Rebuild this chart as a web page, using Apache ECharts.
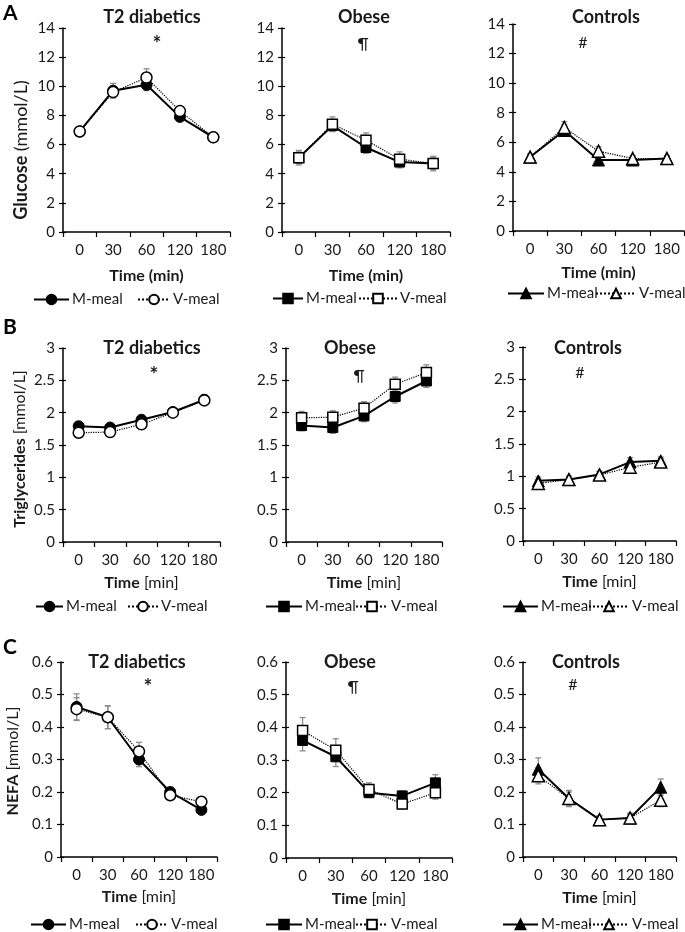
<!DOCTYPE html>
<html><head><meta charset="utf-8">
<script src="https://cdn.jsdelivr.net/npm/echarts@6/dist/echarts.min.js"></script>
<style>html,body{margin:0;padding:0;background:#fff}#c{width:685px;height:932px}</style>
</head><body><div id="c"></div>
<script>
// ---------- DATA ----------
const timeLabels = ['0', '30', '60', '120', '180'];
const groups = ['T2 diabetics', 'Obese', 'Controls'];
const groupMarks = ['*', '¶', '#'];
const meals = ['M-meal', 'V-meal'];

// A: Glucose (mmol/L)
const gluT2_M = [6.9, 9.7, 10.1, 7.9, 6.5];
const gluT2_V = [6.9, 9.6, 10.6, 8.3, 6.5];
const gluT2_Merr = [0.2, 0.5, 0.4, 0.25, 0.2];
const gluT2_Verr = [0.2, 0.4, 0.6, 0.25, 0.2];
const gluOb_M = [5.1, 7.3, 5.8, 4.8, 4.7];
const gluOb_V = [5.1, 7.4, 6.3, 5.0, 4.7];
const gluOb_Merr = [0.4, 0.4, 0.4, 0.4, 0.4];
const gluOb_Verr = [0.5, 0.5, 0.5, 0.5, 0.5];
const gluCo_M = [5.0, 6.8, 4.8, 4.8, 4.9];
const gluCo_V = [5.0, 7.0, 5.4, 4.9, 4.9];
const gluCo_Merr = [0.2, 0.4, 0.2, 0.2, 0.2];
const gluCo_Verr = [0.2, 0.4, 0.3, 0.2, 0.2];

// B: Triglycerides (mmol/L)
const tgT2_M = [1.79, 1.77, 1.89, 2.01, 2.20];
const tgT2_V = [1.69, 1.70, 1.82, 2.00, 2.19];
const tgT2_Merr = [0.06, 0.06, 0.07, 0.07, 0.08];
const tgT2_Verr = [0.06, 0.06, 0.07, 0.07, 0.08];
const tgOb_M = [1.80, 1.77, 1.95, 2.25, 2.49];
const tgOb_V = [1.92, 1.93, 2.07, 2.44, 2.62];
const tgOb_Merr = [0.08, 0.09, 0.09, 0.1, 0.1];
const tgOb_Verr = [0.1, 0.1, 0.1, 0.11, 0.12];
const tgCo_M = [0.93, 0.95, 1.03, 1.22, 1.24];
const tgCo_V = [0.89, 0.95, 1.02, 1.14, 1.22];
const tgCo_Merr = [0.06, 0.05, 0.05, 0.07, 0.06];
const tgCo_Verr = [0.06, 0.05, 0.05, 0.07, 0.06];

// C: NEFA (mmol/L)
const nefaT2_M = [0.462, 0.43, 0.30, 0.20, 0.145];
const nefaT2_V = [0.455, 0.43, 0.325, 0.19, 0.17];
const nefaT2_Merr = [0.04, 0.035, 0.022, 0.01, 0.008];
const nefaT2_Verr = [0.035, 0.035, 0.028, 0.01, 0.01];
const nefaOb_M = [0.36, 0.31, 0.20, 0.19, 0.23];
const nefaOb_V = [0.39, 0.33, 0.21, 0.165, 0.20];
const nefaOb_Merr = [0.032, 0.03, 0.015, 0.015, 0.025];
const nefaOb_Verr = [0.04, 0.035, 0.02, 0.015, 0.02];
const nefaCo_M = [0.27, 0.18, 0.115, 0.12, 0.215];
const nefaCo_V = [0.25, 0.18, 0.115, 0.12, 0.175];
const nefaCo_Merr = [0.035, 0.025, 0.012, 0.015, 0.025];
const nefaCo_Verr = [0.025, 0.02, 0.012, 0.012, 0.02];

// ---------- LAYOUT ----------
const FONT = 'Lato';
const rows = [
  { letter: 'A', letterY: 13, ymax: 14, yint: 2,
    yBold: 'Glucose', yRest: ' (mmol/L)', yNameSize: 18, yNamePos: [21, 150], xName: '{b|Time (min)}',
    data: [[gluT2_M, gluT2_V, gluT2_Merr, gluT2_Verr], [gluOb_M, gluOb_V, gluOb_Merr, gluOb_Verr], [gluCo_M, gluCo_V, gluCo_Merr, gluCo_Verr]],
    grids: [[63, 28, 167, 204], [282, 28, 168, 204], [513, 24, 171, 207]],
    titles: [[152, 17], [364, 17], [606, 17]], marks: [[157, 44], [363, 44], [583, 43]],
    xNameGap: [36, 36, 34], legY: [298, 297, 292],
    legX: [[33, 35, 137, 32], [272, 30, 358, 38], [507, 36, 595, 40]] },
  { letter: 'B', letterY: 327, ymax: 3, yint: 0.5,
    yBold: 'Triglycerides', yRest: ' [mmol/L]', yNameSize: 16, yNamePos: [20, 449], xName: '{b|Time} [min]',
    data: [[tgT2_M, tgT2_V, tgT2_Merr, tgT2_Verr], [tgOb_M, tgOb_V, tgOb_Merr, tgOb_Verr], [tgCo_M, tgCo_V, tgCo_Merr, tgCo_Verr]],
    grids: [[63, 348, 157, 194], [286, 348, 156, 194], [523, 347, 153, 194]],
    titles: [[152, 348], [350, 348], [588, 348]], marks: [[154, 375], [359, 376], [580, 373]],
    xNameGap: [33, 33, 33], legY: [605, 605, 605],
    legX: [[35, 27, 127, 30], [265, 36, 355, 32], [502, 35, 588, 40]] },
  { letter: 'C', letterY: 647, ymax: 0.6, yint: 0.1,
    yBold: 'NEFA', yRest: ' [mmol/L]', yNameSize: 16, yNamePos: [13, 761], xName: '{b|Time} [min]',
    data: [[nefaT2_M, nefaT2_V, nefaT2_Merr, nefaT2_Verr], [nefaOb_M, nefaOb_V, nefaOb_Merr, nefaOb_Verr], [nefaCo_M, nefaCo_V, nefaCo_Merr, nefaCo_Verr]],
    grids: [[61, 662, 156, 195], [286, 662, 166, 196], [523, 662, 153, 195]],
    titles: [[137, 662], [350, 662], [586, 662]], marks: [[148, 687], [353, 687], [573, 685]],
    xNameGap: [32, 33, 33], legY: [923, 923, 923],
    legX: [[30, 35, 135, 32], [265, 36, 355, 32], [502, 35, 588, 40]] }
];
const symbols = ['circle', 'rect', 'triangle'];
const symSizes = [11, 10, 12];
const TXT = '#1a1a1a';

const option = { animation: false, grid: [], xAxis: [], yAxis: [], series: [], legend: [], graphic: [] };

rows.forEach((row, r) => {
  option.graphic.push({ type: 'text', x: 3, y: row.letterY, style: { text: row.letter, font: 'bold 21px ' + FONT, fill: '#000', verticalAlign: 'middle' } });
  option.graphic.push({ type: 'text', x: row.yNamePos[0], y: row.yNamePos[1], rotation: Math.PI / 2,
    style: { text: '{b|' + row.yBold + '}{n|' + row.yRest + '}', align: 'center', verticalAlign: 'middle',
      rich: { b: { font: 'bold ' + row.yNameSize + 'px ' + FONT, fill: TXT }, n: { font: row.yNameSize + 'px ' + FONT, fill: TXT } } } });
  for (let c = 0; c < 3; c++) {
    const gi = option.grid.length;
    const [l, t, w, h] = row.grids[c];
    option.grid.push({ left: l, top: t, width: w, height: h, containLabel: false });
    option.xAxis.push({
      type: 'category', gridIndex: gi, data: timeLabels, boundaryGap: true,
      axisLine: { lineStyle: { color: '#000', width: 1.5 } },
      axisTick: { show: true, length: 5, lineStyle: { color: '#000', width: 1.2 } },
      axisLabel: { color: TXT, fontFamily: FONT, fontSize: 15, margin: 11, interval: 0, hideOverlap: false },
      name: row.xName, nameLocation: 'middle', nameGap: row.xNameGap[c],
      nameTextStyle: { color: TXT, fontFamily: FONT, fontSize: 16, rich: { b: { fontWeight: 'bold', fontFamily: FONT, fontSize: 16, color: TXT } } }
    });
    option.yAxis.push({
      type: 'value', gridIndex: gi, min: 0, max: row.ymax, interval: row.yint,
      axisLine: { show: true, lineStyle: { color: '#000', width: 1.5 } },
      axisTick: { show: true, length: 4, lineStyle: { color: '#000', width: 1.2 } },
      splitLine: { show: false },
      axisLabel: { color: TXT, fontFamily: FONT, fontSize: 15, margin: 8 }
    });
    const yInside = option.yAxis.length;
    option.yAxis.push({
      type: 'value', gridIndex: gi, min: 0, max: row.ymax, interval: row.yint, position: 'left',
      axisLine: { show: false }, axisLabel: { show: false }, splitLine: { show: false },
      axisTick: { show: true, inside: true, length: 3, lineStyle: { color: '#000', width: 1.2 } }
    });
    const yi = yInside - 1;
    const [mVals, vVals, mErr, vErr] = row.data[c];
    const idx = r * 3 + c;
    [[mVals, mErr], [vVals, vErr]].forEach(([vals, errs]) => {
      option.series.push({
        type: 'custom', xAxisIndex: gi, yAxisIndex: yi, z: 1, silent: true,
        data: vals.map((v, i) => [i, v - errs[i], v + errs[i]]),
        encode: { x: 0, y: [1, 2] },
        renderItem: (params, api) => {
          const x = api.value(0);
          const p1 = api.coord([x, api.value(2)]);
          const p2 = api.coord([x, api.value(1)]);
          const st = { stroke: '#8c8c8c', lineWidth: 1.3 };
          const cw = 3;
          return { type: 'group', children: [
            { type: 'line', shape: { x1: p1[0], y1: p1[1], x2: p2[0], y2: p2[1] }, style: st },
            { type: 'line', shape: { x1: p1[0] - cw, y1: p1[1], x2: p1[0] + cw, y2: p1[1] }, style: st },
            { type: 'line', shape: { x1: p2[0] - cw, y1: p2[1], x2: p2[0] + cw, y2: p2[1] }, style: st }
          ] };
        }
      });
    });
    option.series.push({
      name: 'M-meal#' + idx, type: 'line', xAxisIndex: gi, yAxisIndex: yi, z: 3,
      data: mVals, symbol: symbols[c], symbolSize: symSizes[c], showSymbol: true,
      lineStyle: { color: '#000', width: 2, type: 'solid' },
      itemStyle: { color: '#000', borderColor: '#000', borderWidth: 1 }
    });
    option.series.push({
      name: 'V-meal#' + idx, type: 'line', xAxisIndex: gi, yAxisIndex: yi, z: 4,
      data: vVals, symbol: symbols[c], symbolSize: symSizes[c], showSymbol: true,
      lineStyle: { color: '#000', width: 1.2, type: 'dotted' },
      itemStyle: { color: '#fff', borderColor: '#000', borderWidth: 1.5 }
    });
    const [mx, mw, vx, vw] = row.legX[c];
    [['M-meal#' + idx, mx, mw], ['V-meal#' + idx, vx, vw]].forEach(([nm, lx, lw]) => {
      option.legend.push({
        data: [nm], left: lx, top: row.legY[c] - 6, padding: 0, itemWidth: lw, itemHeight: 12,
        selectedMode: false, formatter: n => n.split('#')[0],
        textStyle: { color: TXT, fontFamily: FONT, fontSize: 15, padding: [0, 0, 0, -2] }
      });
    });
    option.graphic.push({ type: 'text', x: row.titles[c][0], y: row.titles[c][1], style: { text: groups[c], font: 'bold 18px ' + FONT, fill: TXT, align: 'center', verticalAlign: 'middle' } });
    option.graphic.push({ type: 'text', x: row.marks[c][0], y: row.marks[c][1], style: { text: groupMarks[c], font: (c === 0 ? 'bold 21px ' : '16px ') + FONT, fill: TXT, align: 'center', verticalAlign: 'middle' } });
  }
});

const chart = echarts.init(document.getElementById('c'), null, { renderer: 'canvas' });
chart.setOption(option);
</script>
</body></html>
